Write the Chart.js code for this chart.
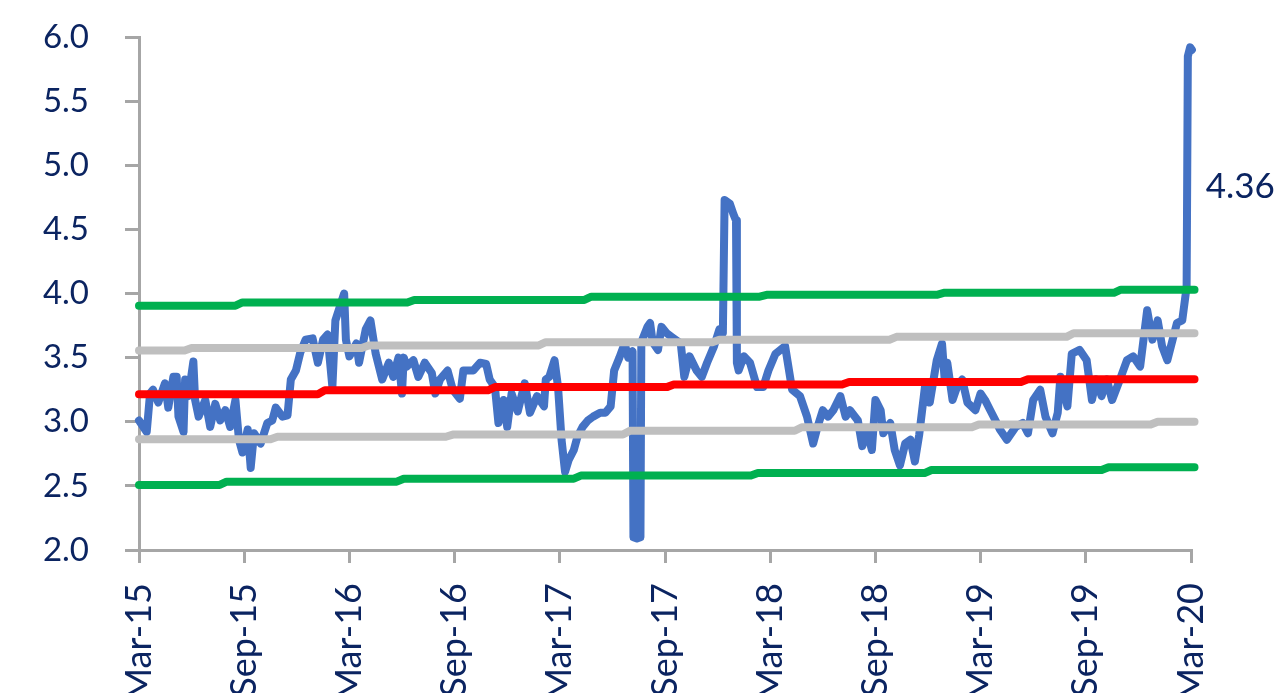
<!DOCTYPE html>
<html>
<head>
<meta charset="utf-8">
<script src="https://cdn.jsdelivr.net/npm/chart.js@4.4.0/dist/chart.umd.min.js"></script>
<style>
  html, body { margin: 0; padding: 0; background: #fff; }
</style>
</head>
<body>
<canvas id="chart" width="1284" height="693"></canvas>
<script>
// x values are months since Mar-15
const tickLabels = ['Mar-15', 'Sep-15', 'Mar-16', 'Sep-16', 'Mar-17', 'Sep-17',
                    'Mar-18', 'Sep-18', 'Mar-19', 'Sep-19', 'Mar-20'];

const blueMonths = [
  0.0, 0.44, 0.63, 0.8, 1.1, 1.48, 1.67, 1.96, 2.15, 2.25, 2.54, 2.63, 2.82, 3.1, 3.2, 3.4,
  3.78, 4.06, 4.35, 4.63, 4.92, 5.2, 5.5, 5.7, 5.9, 6.2, 6.37, 6.56, 6.94, 7.32, 7.6, 7.8,
  8.18, 8.47, 8.66, 8.95, 9.2, 9.5, 9.9, 10.2, 10.5, 10.75, 11.03, 11.2, 11.7, 11.8, 12.0,
  12.4, 12.55, 12.93, 13.2, 13.5, 13.87, 14.25, 14.5, 14.8, 15.0, 15.1, 15.27, 15.65, 15.93,
  16.3, 16.7, 16.9, 17.17, 17.6, 17.9, 18.3, 18.5, 19.07, 19.45, 19.8, 20.0, 20.3, 20.5,
  20.8, 21.0, 21.25, 21.6, 22.0, 22.3, 22.7, 23.1, 23.2, 23.4, 23.7, 23.9, 24.1, 24.3, 24.5,
  24.8, 25.0, 25.3, 25.6, 25.9, 26.3, 26.6, 26.9, 27.1, 27.4, 27.7, 27.9, 28.15, 28.2, 28.4,
  28.6, 28.65, 29.0, 29.15, 29.3, 29.6, 29.8, 30.1, 30.4, 30.9, 31.1, 31.4, 31.8, 32.1, 32.4,
  32.8, 33.1, 33.3, 33.4, 33.7, 33.9, 34.05, 34.1, 34.2, 34.5, 34.85, 35.25, 35.6, 35.9, 36.3,
  36.85, 37.25, 37.7, 38.1, 38.45, 38.7, 39.0, 39.3, 39.6, 40.0, 40.3, 40.55, 41.0, 41.25,
  41.5, 41.8, 42.0, 42.3, 42.45, 42.85, 43.1, 43.4, 43.7, 44.0, 44.25, 44.5, 44.85, 45.1,
  45.5, 45.8, 45.95, 46.1, 46.4, 46.65, 46.95, 47.25, 47.7, 48.0, 48.25, 48.55, 48.85, 49.1,
  49.5, 50.0, 50.4, 50.7, 51.0, 51.4, 51.7, 52.1, 52.4, 52.55, 52.95, 53.2, 53.65, 54.05,
  54.35, 54.6, 54.9, 55.2, 55.5, 55.95, 56.35, 56.7, 57.1, 57.5, 57.8, 58.1, 58.35, 58.65,
  58.95, 59.2, 59.5, 59.75, 59.82, 59.95, 60.05, 60.1
];
const blueValues = [
  3.01, 2.92, 3.22, 3.25, 3.15, 3.30, 3.11, 3.35, 3.35, 3.04, 2.92, 3.33, 3.20, 3.47, 3.17, 3.04,
  3.17, 2.96, 3.14, 3.01, 3.09, 2.96, 3.17, 2.86, 2.76, 2.94, 2.64, 2.91, 2.83, 2.99, 3.01, 3.11,
  3.04, 3.05, 3.33, 3.40, 3.54, 3.64, 3.65, 3.46, 3.64, 3.68, 3.27, 3.79, 4.00, 3.64, 3.51,
  3.61, 3.46, 3.72, 3.79, 3.53, 3.33, 3.46, 3.35, 3.50, 3.22, 3.50, 3.43, 3.48, 3.35,
  3.46, 3.38, 3.22, 3.33, 3.40, 3.25, 3.18, 3.40, 3.40, 3.46, 3.45, 3.33, 3.27, 2.99,
  3.17, 2.96, 3.22, 3.08, 3.30, 3.07, 3.20, 3.12, 3.33, 3.35, 3.48, 3.27, 2.86, 2.61, 2.70,
  2.78, 2.88, 2.96, 3.01, 3.04, 3.07, 3.07, 3.12, 3.40, 3.50, 3.61, 3.50, 3.55, 2.10, 2.09,
  2.10, 3.62, 3.74, 3.77, 3.62, 3.56, 3.74, 3.69, 3.66, 3.61, 3.35, 3.51, 3.40, 3.35, 3.46,
  3.59, 3.72, 3.69, 4.73, 4.70, 4.62, 4.57, 3.46, 3.40, 3.51, 3.46, 3.27, 3.27, 3.40, 3.53,
  3.59, 3.25, 3.20, 3.04, 2.83, 2.96, 3.09, 3.04, 3.09, 3.20, 3.04, 3.09, 3.01, 2.81,
  2.94, 2.78, 3.17, 3.09, 2.91, 2.99, 2.78, 2.66, 2.83, 2.86, 2.69, 2.90, 3.30, 3.15,
  3.48, 3.61, 3.33, 3.46, 3.17, 3.27, 3.33, 3.15, 3.09, 3.22, 3.17, 3.09, 3.01, 2.94,
  2.86, 2.96, 2.99, 2.91, 3.17, 3.25, 3.04, 2.91, 3.07, 3.35, 3.12, 3.53, 3.56, 3.48,
  3.17, 3.33, 3.20, 3.33, 3.17, 3.33, 3.48, 3.51, 3.43, 3.87, 3.64, 3.79, 3.59, 3.48,
  3.64, 3.77, 3.79, 4.05, 5.85, 5.92, 5.90, 4.36
];

// step levels: month at which each level begins, and the level
const meanStarts = [0, 10.2, 19.9, 30.1, 40.1, 50.3];
const meanLevels = [3.215, 3.245, 3.27, 3.29, 3.31, 3.332];
const upper1Starts = [0, 2.6, 12.7, 22.8, 32.7, 42.8, 52.9];
const upper1Levels = [3.555, 3.575, 3.595, 3.62, 3.64, 3.662, 3.69];
const lower1Starts = [0, 7.5, 17.5, 27.6, 37.4, 47.5, 57.7];
const lower1Levels = [2.863, 2.883, 2.90, 2.93, 2.957, 2.978, 3.0];
const upper2Starts = [0, 5.5, 15.3, 25.4, 35.4, 45.5, 55.6];
const upper2Levels = [3.905, 3.93, 3.95, 3.975, 3.99, 4.005, 4.03];
const lower2Starts = [0, 4.6, 14.7, 24.8, 34.9, 44.8, 54.9];
const lower2Levels = [2.507, 2.533, 2.556, 2.58, 2.60, 2.624, 2.645];
const bandEnd = 60.2;

const navy = '#0b2461';
const axisGrey = '#a6a6a6';
const ramp = 0.4;
const labelLevel = 4.83;

function stepPoints(starts, levels) {
  const pts = [];
  for (let i = 0; i < starts.length; i++) {
    const from = i === 0 ? starts[i] : starts[i] + ramp;
    const to = i + 1 < starts.length ? starts[i + 1] : bandEnd;
    pts.push({x: from, y: levels[i]});
    pts.push({x: to, y: levels[i]});
  }
  return pts;
}

function band(data, color) {
  return {
    data: data,
    borderColor: color,
    borderWidth: 8,
    borderCapStyle: 'round',
    borderJoinStyle: 'round',
    pointRadius: 0,
    tension: 0,
    clip: false,
    order: 1
  };
}

const bluePoints = blueMonths.map((m, i) => ({x: m, y: blueValues[i]}));

const lastLabel = {
  id: 'lastLabel',
  afterDatasetsDraw(chart) {
    const ctx = chart.ctx;
    const x = chart.scales.x, y = chart.scales.y;
    const i = blueValues.length - 1;
    ctx.save();
    ctx.font = '35px Lato';
    ctx.fillStyle = navy;
    ctx.textBaseline = 'middle';
    ctx.fillText(blueValues[i].toFixed(2), x.getPixelForValue(blueMonths[i]) + 13, y.getPixelForValue(labelLevel));
    ctx.restore();
  }
};

new Chart(document.getElementById('chart').getContext('2d'), {
  type: 'line',
  data: {
    datasets: [
      band(stepPoints(upper2Starts, upper2Levels), '#00b050'),
      band(stepPoints(lower2Starts, lower2Levels), '#00b050'),
      band(stepPoints(upper1Starts, upper1Levels), '#bfbfbf'),
      band(stepPoints(lower1Starts, lower1Levels), '#bfbfbf'),
      band(stepPoints(meanStarts, meanLevels), '#ff0000'),
      {
        data: bluePoints,
        borderColor: '#4472c4',
        borderWidth: 8,
        borderCapStyle: 'round',
        borderJoinStyle: 'round',
        pointRadius: 0,
        tension: 0,
        clip: false,
        order: 5
      }
    ]
  },
  options: {
    responsive: false,
    animation: false,
    devicePixelRatio: 1,
    layout: { padding: { top: 37, right: 93, left: 0, bottom: 0 } },
    plugins: { legend: { display: false }, tooltip: { enabled: false } },
    scales: {
      x: {
        type: 'linear',
        min: 0,
        max: 60,
        afterFit: s => { s.height = 143; },
        afterBuildTicks: s => { s.ticks = tickLabels.map((t, i) => ({value: i * 6})); },
        ticks: {
          autoSkip: false,
          maxRotation: 90,
          minRotation: 90,
          padding: 20,
          color: navy,
          font: { family: 'Lato', size: 36 },
          callback: (v) => tickLabels[Math.round(v / 6)]
        },
        grid: { drawOnChartArea: false, drawTicks: true, tickLength: 13, color: axisGrey, lineWidth: 3 },
        border: { display: true, color: axisGrey, width: 3 }
      },
      y: {
        min: 2,
        max: 6,
        afterFit: s => { s.width = 139; s.paddingTop = 0; s.paddingBottom = 0; },
        ticks: {
          stepSize: 0.5,
          padding: 36,
          color: navy,
          font: { family: 'Lato', size: 33 },
          callback: v => v.toFixed(1)
        },
        grid: { drawOnChartArea: false, drawTicks: true, tickLength: 14, color: axisGrey, lineWidth: 3 },
        border: { display: true, color: axisGrey, width: 3 }
      }
    }
  },
  plugins: [lastLabel]
});
</script>
</body>
</html>
